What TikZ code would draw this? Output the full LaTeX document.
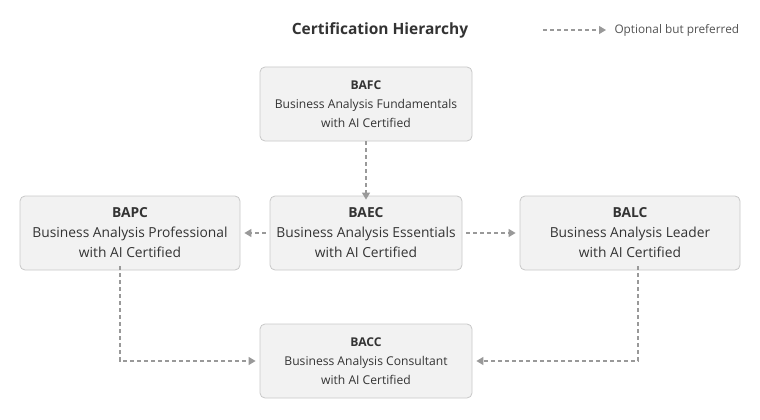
\documentclass[tikz,border=0pt]{standalone}
\usepackage{fontspec}
\setmainfont{Open Sans}
\usetikzlibrary{arrows.meta}
\definecolor{boxfill}{HTML}{F2F2F2}
\definecolor{boxline}{HTML}{C8C8C8}
\definecolor{conn}{HTML}{999999}
\definecolor{txt}{HTML}{333333}
\begin{document}
\begin{tikzpicture}[x=1pt,y=-1pt,
  cert/.style={draw=boxline,fill=boxfill,rounded corners=5pt,line width=0.8pt,align=center,
    text=txt,font=\fontsize{12.1}{19}\selectfont,inner sep=0pt},
  big/.style={font=\fontsize{13.8}{20}\selectfont},
  opt/.style={draw=conn,line width=1.2pt,dash pattern=on 4pt off 3pt,-{Triangle[length=7pt,width=8pt,fill=conn]}}]
\useasboundingbox (0,0) rectangle (760,420);
\node[font=\fontsize{15.5}{18}\selectfont\bfseries,text=txt] (title) at (380,30) {Certification Hierarchy};
\coordinate (la) at (543,30);
\coordinate (lb) at (606,30);
\draw[opt] (la) -- (lb);
\node[anchor=west,font=\fontsize{11.8}{14}\selectfont,text=txt!85] (leg) at (611,30) {Optional but preferred};
\node[cert,minimum width=212pt,minimum height=74pt] (bafc) at (366,104) {\textbf{BAFC}\\Business Analysis Fundamentals\\with AI Certified};
\node[cert,big,minimum width=220pt,minimum height=74pt] (bapc) at (130,233) {\textbf{BAPC}\\Business Analysis Professional\\with AI Certified};
\node[cert,big,minimum width=192pt,minimum height=74pt] (baec) at (366,233) {\textbf{BAEC}\\Business Analysis Essentials\\with AI Certified};
\node[cert,big,minimum width=220pt,minimum height=74pt] (balc) at (630,233) {\textbf{BALC}\\Business Analysis Leader\\with AI Certified};
\node[cert,minimum width=212pt,minimum height=74pt] (bacc) at (366,361) {\textbf{BACC}\\Business Analysis Consultant\\with AI Certified};
\draw[opt] (bafc.south) -- ([yshift=-4pt]baec.north);
\draw[opt] ([xshift=-4pt]baec.west) -- ([xshift=4pt]bapc.east);
\draw[opt] ([xshift=4pt]baec.east) -- ([xshift=-4pt]balc.west);
\draw[opt] ([xshift=-10pt,yshift=4pt]bapc.south) |- ([xshift=-4pt]bacc.west);
\draw[opt] ([xshift=8pt,yshift=4pt]balc.south) |- ([xshift=4pt]bacc.east);
\end{tikzpicture}
\end{document}
